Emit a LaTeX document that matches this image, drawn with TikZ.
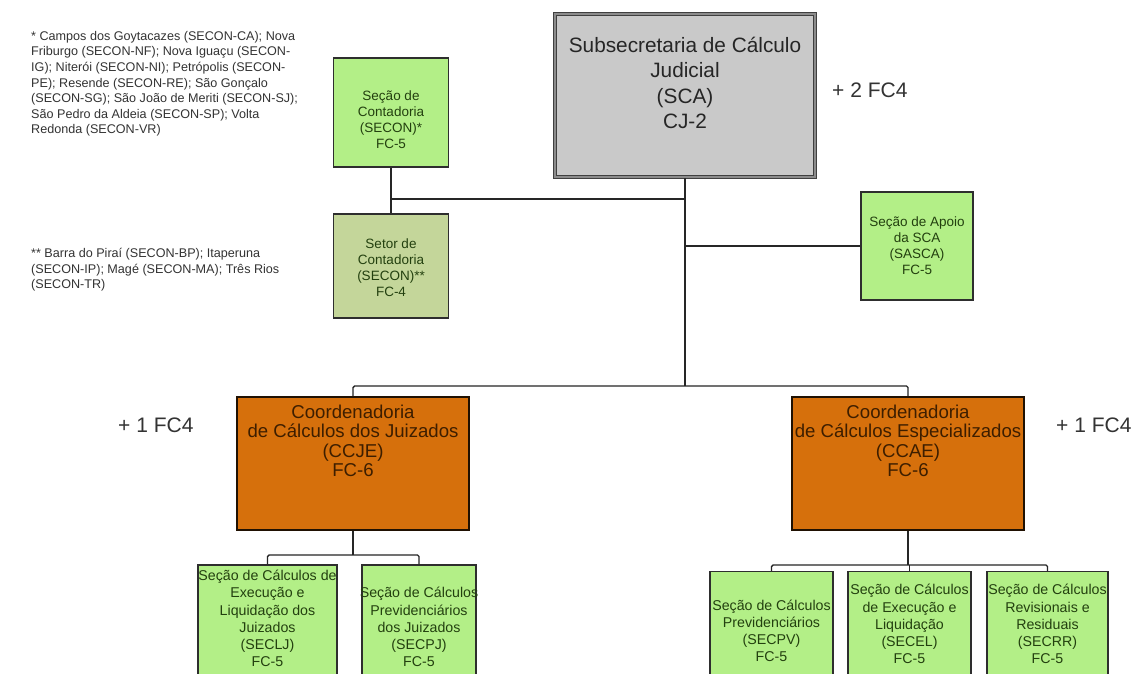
\documentclass[tikz,border=0pt]{standalone}
\usepackage{fontspec}
\setmainfont{Liberation Sans}

\definecolor{grnfill}{HTML}{B3EF87}
\definecolor{setorfill}{HTML}{C4D69A}
\definecolor{orgfill}{HTML}{D6700C}
\definecolor{scafill}{HTML}{C9C9C9}
\definecolor{lnk}{HTML}{262626}
\definecolor{boxline}{HTML}{2E2E2E}
\definecolor{grntext}{HTML}{23400F}
\definecolor{orgtext}{HTML}{3D1E00}
\definecolor{notetext}{HTML}{333333}

\newcommand\sizeNote{\fontsize{12.6}{15.6}\selectfont}
\newcommand\sizeUnit{\fontsize{13.5}{16}\selectfont}
\newcommand\sizeSub{\fontsize{14.2}{17.2}\selectfont}
\newcommand\sizeCoord{\fontsize{18.6}{19.5}\selectfont}
\newcommand\sizeHead{\fontsize{20.8}{25.3}\selectfont}
\newcommand\sizeExtra{\fontsize{21}{25}\selectfont}

\begin{document}
\begin{tikzpicture}[x=1pt,y=-1pt,
  link/.style={draw=lnk, line width=1.6pt},
  buslink/.style={draw=lnk, line width=1.4pt, rounded corners=1.5pt},
  gbox/.style={rectangle, draw=boxline, line width=1.3pt, fill=grnfill, inner sep=0pt},
  sbox/.style={gbox, fill=setorfill},
  obox/.style={rectangle, draw=black!85!orgfill, line width=2.4pt, fill=orgfill, inner sep=0pt},
  headbox/.style={rectangle, draw=black!75, line width=1.5pt, double=black!45,
    double distance=1.2pt, fill=scafill, inner sep=0pt},
  headtext/.style={inner sep=0pt, align=center, text=black!85, font=\sizeHead},
  coordtext/.style={inner sep=0pt, align=center, text=orgtext, font=\sizeCoord},
  unittext/.style={inner sep=0pt, align=center, text=grntext, font=\sizeUnit},
  subtext/.style={inner sep=0pt, align=center, text=grntext, font=\sizeSub, anchor=south},
  note/.style={inner sep=0pt, align=left, text=notetext, font=\sizeNote, anchor=north west},
  extra/.style={inner sep=0pt, text=black!80, font=\sizeExtra, anchor=west}
]
\useasboundingbox (0,0) rectangle (1131,673);
\clip (0,0) rectangle (1131,673);
\fill[white] (0,0) rectangle (1131,673);

% --- top level ---------------------------------------------------------
\node[headbox, minimum width=260pt, minimum height=163pt] (sca) at (685,95.5) {};
\node[headtext] (scaT) at (685,83) {Subsecretaria de Cálculo\\Judicial\\(SCA)\\CJ-2};

% --- units attached to the subsecretariat -------------------------------
\node[gbox, minimum width=115pt, minimum height=109pt] (secon) at (391,112.5) {};
\node[unittext] (seconT) at (391,120) {Seção de\\Contadoria\\(SECON)*\\FC-5};
\node[sbox, minimum width=115pt, minimum height=104pt] (setor) at (391,266) {};
\node[unittext] (setorT) at (391,268) {Setor de\\Contadoria\\(SECON)**\\FC-4};
\node[gbox, minimum width=112pt, minimum height=108pt] (sasca) at (917,246) {};
\node[unittext] (sascaT) at (917,246) {Seção de Apoio\\da SCA\\(SASCA)\\FC-5};

% --- coordinations -----------------------------------------------------
\node[obox, minimum width=232pt, minimum height=133pt] (ccje) at (353,463.5) {};
\node[coordtext] (ccjeT) at (353,441)
  {Coordenadoria\\de Cálculos dos Juizados\\(CCJE)\\FC-6};
\node[obox, minimum width=232pt, minimum height=133pt] (ccae) at (908,463.5) {};
\node[coordtext] (ccaeT) at (908,441)
  {Coordenadoria\\de Cálculos Especializados\\(CCAE)\\FC-6};

% --- sections ----------------------------------------------------------
\node[gbox, minimum width=139pt, minimum height=135pt] (seclj) at (267.5,632.5) {};
\node[gbox, minimum width=114pt, minimum height=135pt] (secpj) at (419,632.5) {};
\node[gbox, minimum width=123pt, minimum height=127pt] (secpv) at (771.5,635) {};
\node[gbox, minimum width=123pt, minimum height=127pt] (secel) at (909.5,635) {};
\node[gbox, minimum width=121pt, minimum height=127pt] (secrr) at (1047.5,635) {};

\node[subtext] (secljT) at (267.5,667)
  {Seção de Cálculos de\\Execução e\\Liquidação dos\\Juizados\\(SECLJ)\\FC-5};
\node[subtext] (secpjT) at (419,667)
  {Seção de Cálculos\\Previdenciários\\dos Juizados\\(SECPJ)\\FC-5};
\node[subtext] (secpvT) at (771.5,662)
  {Seção de Cálculos\\Previdenciários\\(SECPV)\\FC-5};
\node[subtext] (secelT) at (909.5,664)
  {Seção de Cálculos\\de Execução e\\Liquidação\\(SECEL)\\FC-5};
\node[subtext] (secrrT) at (1047.5,664)
  {Seção de Cálculos\\Revisionais e\\Residuais\\(SECRR)\\FC-5};

% --- extra positions and notes ----------------------------------------
\node[extra] (fcTop) at (832,90) {+ 2 FC4};
\node[extra] (fcLeft) at (118,425) {+ 1 FC4};
\node[extra] (fcRight) at (1056,425) {+ 1 FC4};

\node[note] (noteA) at (31,31)
  {* Campos dos Goytacazes (SECON-CA); Nova\\
   Friburgo (SECON-NF); Nova Iguaçu (SECON-\\
   IG); Niterói (SECON-NI); Petrópolis (SECON-\\
   PE); Resende (SECON-RE); São Gonçalo\\
   (SECON-SG); São João de Meriti (SECON-SJ);\\
   São Pedro da Aldeia (SECON-SP); Volta\\
   Redonda (SECON-VR)};
\node[note] (noteB) at (31,248)
  {** Barra do Piraí (SECON-BP); Itaperuna\\
   (SECON-IP); Magé (SECON-MA); Três Rios\\
   (SECON-TR)};

% --- connectors -------------------------------------------------------
\coordinate (branchL) at (0,199);
\coordinate (bus) at (0,386);
\coordinate (busL) at (0,555);
\coordinate (busR) at (0,565);

\draw[link] (sca.south) -- (sca.south |- bus);
\draw[link] (sca.south |- branchL) -- (secon.south |- branchL);
\draw[link] (secon.south) -- (setor.north);
\draw[link] (sca.south |- sasca.west) -- (sasca.west);

\draw[buslink] (ccje.north) -- (ccje.north |- bus) -- (ccae.north |- bus) -- (ccae.north);

\draw[link] (ccje.south) -- (ccje.south |- busL);
\draw[buslink] (seclj.north) -- (seclj.north |- busL) -- (secpj.north |- busL) -- (secpj.north);

\draw[link] (ccae.south) -- (ccae.south |- busR);
\draw[buslink] (secpv.north) -- (secpv.north |- busR) -- (secrr.north |- busR) -- (secrr.north);
\draw[buslink] (secel.north |- busR) -- (secel.north);
\end{tikzpicture}
\end{document}
